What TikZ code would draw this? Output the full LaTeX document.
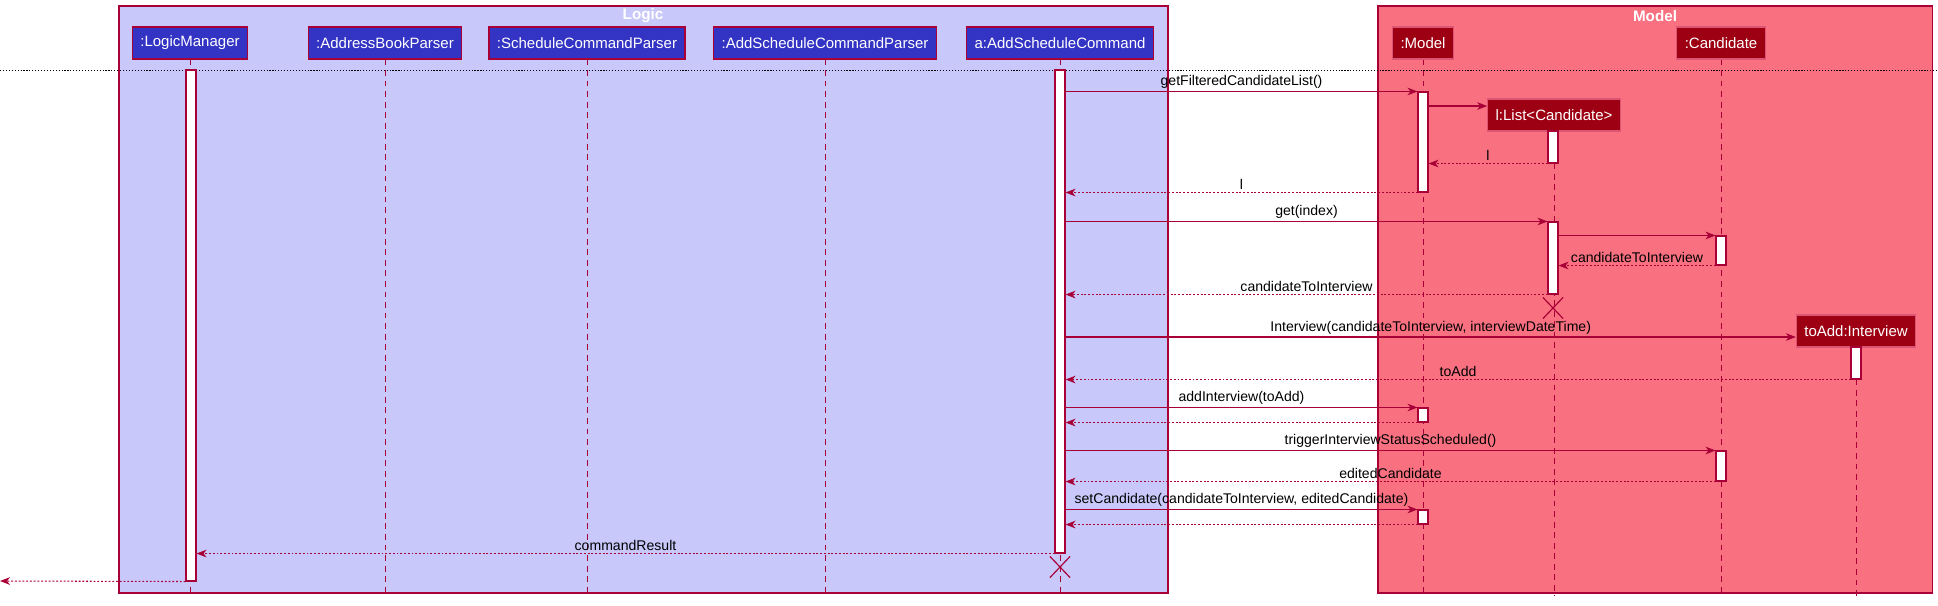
\documentclass[tikz,border=0pt]{standalone}
\usepackage{fontspec}
\setmainfont{Liberation Sans}
\usetikzlibrary{arrows.meta, positioning, shapes.misc, fit, calc}
\definecolor{logicblue}{HTML}{3333C4}
\definecolor{logiclight}{HTML}{C8C8FA}
\definecolor{modelred}{HTML}{9D0012}
\definecolor{modellight}{HTML}{F97181}
\definecolor{modeledge}{HTML}{DC5573}
\definecolor{seqred}{HTML}{A80036}

\begin{document}
\begin{tikzpicture}[
    x=0.03cm, y=-0.03cm,
    every node/.style={font=\fontsize{12}{14}\selectfont},
    pkg/.style={rectangle, draw=seqred, line width=0.9pt, inner sep=0pt},
    pkgtitle/.style={text=white, font=\fontsize{13}{15}\selectfont\bfseries},
    logicpart/.style={
      rectangle, fill=logicblue, draw=seqred,
      line width=0.9pt, text=white,
      inner xsep=6.8pt, minimum height=0.96cm,
      font=\fontsize{12.8}{15}\selectfont},
    modelpart/.style={logicpart, fill=modelred, draw=modeledge},
    lifeline/.style={draw=seqred, line width=0.7pt, dash pattern=on 5pt off 4pt},
    act/.style={rectangle, fill=white, draw=seqred, line width=0.9pt, inner sep=0pt},
    call/.style={draw=seqred, line width=0.9pt,
      -{Stealth[length=8.5pt, width=6.5pt, inset=2.5pt]}},
    ret/.style={call, dash pattern=on 1.6pt off 1.6pt},
    lbl/.style={midway, above, inner sep=2pt},
    destroy/.style={cross out, draw=seqred, line width=1pt,
      minimum width=0.57cm, minimum height=0.6cm, inner sep=0pt}
  ]
  \useasboundingbox (0,0) rectangle (1938,605);

  % package boxes
  \node[pkg, fill=logiclight, fit={(119,6) (1168,593)}] (logic) {};
  \node[pkg, fill=modellight, fit={(1378,6) (1932,593)}] (model) {};
  \node[pkgtitle] (logict) at (643,16) {Logic};
  \node[pkgtitle] (modelt) at (1655,16) {Model};

  % participants
  \node[logicpart] (lm) at (190,43) {:LogicManager};
  \node[logicpart] (abp) at (385,43) {:AddressBookParser};
  \node[logicpart] (scp) at (587,43) {:ScheduleCommandParser};
  \node[logicpart] (ascp) at (825,43) {:AddScheduleCommandParser};
  \node[logicpart] (asc) at (1060,43) {a:AddScheduleCommand};
  \node[modelpart] (mdl) at (1423,43) {:Model};
  \node[modelpart] (cand) at (1721,43) {:Candidate};
  \node[modelpart] (lst) at (1554,115) {l:List<Candidate>};
  \node[modelpart] (itv) at (1856,331) {toAdd:Interview};

  % lifelines
  \coordinate (bottom) at (0,596);
  \draw[lifeline] (lm.south) -- (lm.south |- bottom);
  \draw[lifeline] (abp.south) -- (abp.south |- bottom);
  \draw[lifeline] (scp.south) -- (scp.south |- bottom);
  \draw[lifeline] (ascp.south) -- (ascp.south |- bottom);
  \draw[lifeline] (asc.south) -- (asc.south |- bottom);
  \draw[lifeline] (mdl.south) -- (mdl.south |- bottom);
  \draw[lifeline] (cand.south) -- (cand.south |- bottom);
  \draw[lifeline] (lst.south) -- (lst.south |- bottom);
  \draw[lifeline] (itv.south) -- (itv.south |- bottom);

  % separator
  \coordinate (sepl) at (0,70);
  \coordinate (sepr) at (1938,70);
  \draw[black, line width=0.6pt, dash pattern=on 1pt off 1.5pt] (sepl) -- (sepr);

  % activation bars
  \node[act, fit={(186,70) (196,581)}] (lma) {};
  \node[act, fit={(1055,70) (1065,553)}] (asca) {};
  \node[act, fit={(1418,92) (1428,192)}] (m1) {};
  \node[act, fit={(1548,131) (1558,163)}] (l1) {};
  \node[act, fit={(1548,222) (1558,294)}] (l2) {};
  \node[act, fit={(1716,236) (1726,265)}] (c1) {};
  \node[act, fit={(1851,347) (1861,379)}] (ia) {};
  \node[act, fit={(1418,408) (1428,422)}] (m2) {};
  \node[act, fit={(1716,451) (1726,481)}] (c2) {};
  \node[act, fit={(1418,510) (1428,524)}] (m3) {};

  \node[destroy] (lx) at (1553,308) {};
  \node[destroy] (ax) at (1060,567) {};

  % messages
  \draw[call] (asca.east |- m1.north) -- (m1.north west)
    node[lbl] {getFilteredCandidateList()};
  \coordinate (lstin) at ($(lst.west)+(0,-9)$);
  \draw[call] (m1.east |- lstin) -- (lstin);
  \draw[ret] (l1.south west) -- (m1.east |- l1.south) node[lbl] {l};
  \draw[ret] (m1.south west) -- (asca.east |- m1.south) node[lbl] {l};
  \draw[call] (asca.east |- l2.north) -- (l2.north west) node[lbl] {get(index)};
  \draw[call] (l2.east |- c1.north) -- (c1.north west);
  \draw[ret] (c1.south west) -- (l2.east |- c1.south)
    node[lbl] {candidateToInterview};
  \draw[ret] (l2.south west) -- (asca.east |- l2.south)
    node[lbl] {candidateToInterview};
  \coordinate (itvin) at ($(itv.west)+(0,6)$);
  \draw[call] (asca.east |- itvin) -- (itvin)
    node[lbl] {Interview(candidateToInterview, interviewDateTime)};
  \draw[ret] (ia.south west) -- (asca.east |- ia.south) node[lbl] {toAdd};
  \draw[call] (asca.east |- m2.north) -- (m2.north west)
    node[lbl] {addInterview(toAdd)};
  \draw[ret] (m2.south west) -- (asca.east |- m2.south);
  \draw[call] (asca.east |- c2.north) -- (c2.north west)
    node[lbl] {triggerInterviewStatusScheduled()};
  \draw[ret] (c2.south west) -- (asca.east |- c2.south)
    node[lbl] {editedCandidate};
  \draw[call] (asca.east |- m3.north) -- (m3.north west)
    node[lbl] {setCandidate(candidateToInterview, editedCandidate)};
  \draw[ret] (m3.south west) -- (asca.east |- m3.south);
  \draw[ret] (asca.south west) -- (lma.east |- asca.south)
    node[lbl] {commandResult};
  \coordinate (out) at (0,581);
  \draw[ret] (lma.south west) -- (out);
\end{tikzpicture}
\end{document}
